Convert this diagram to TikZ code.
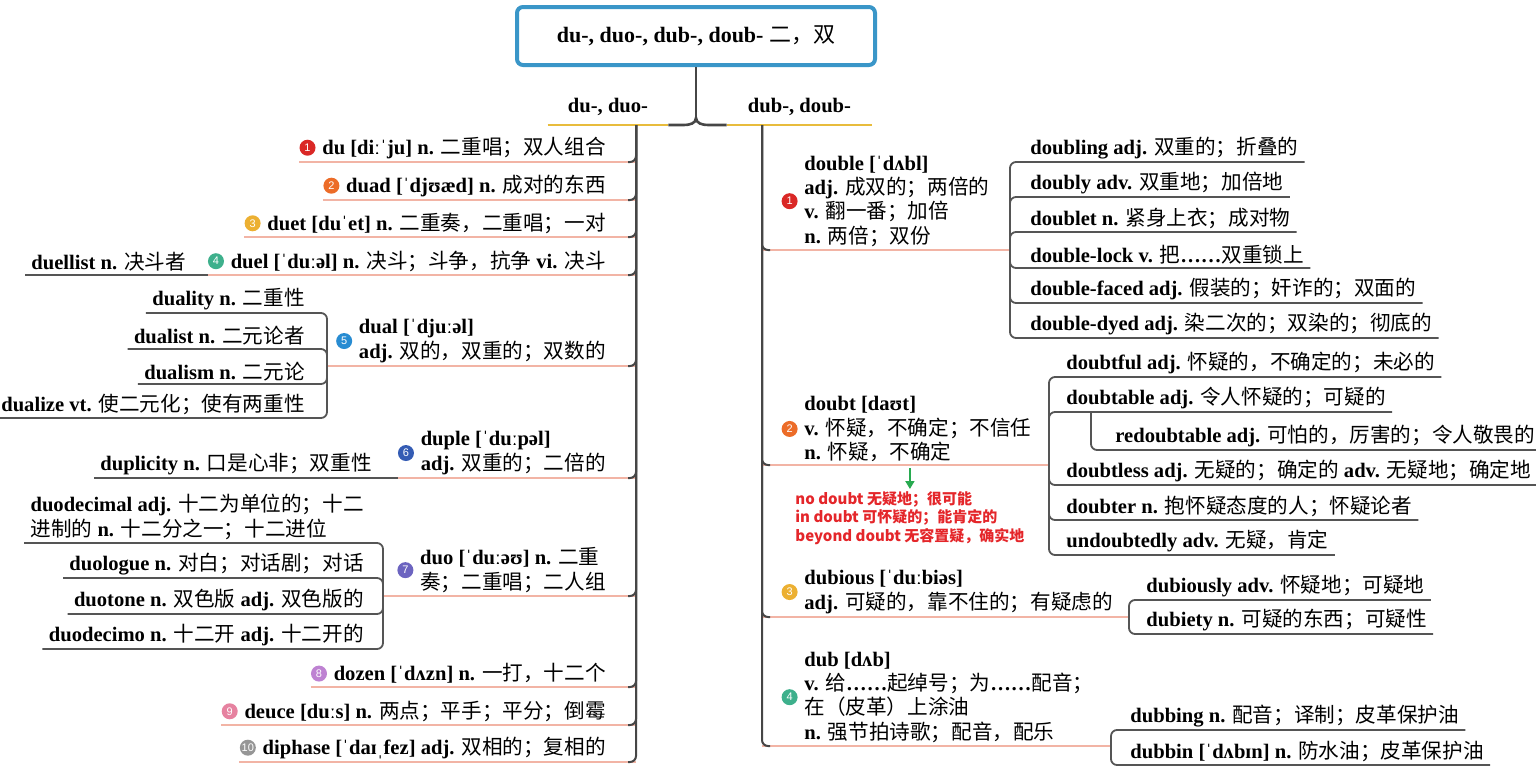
\documentclass[tikz,border=0pt]{standalone}
\usepackage{fontspec}
\setmainfont{Liberation Serif}
\setsansfont{Liberation Sans}
\newfontfamily\cjk{Noto Sans CJK SC}
\newcommand\zh[1]{{\cjk\mdseries #1}}
\usetikzlibrary{positioning,calc,arrows.meta}

\definecolor{boxblue}{RGB}{58,150,200}
\definecolor{stemgray}{RGB}{70,70,70}
\definecolor{subgray}{RGB}{85,85,85}
\definecolor{salmon}{RGB}{242,180,165}
\definecolor{gold}{RGB}{232,188,60}
\definecolor{idred}{RGB}{228,38,42}
\definecolor{arrgreen}{RGB}{40,170,80}
\definecolor{numred}{RGB}{218,40,38}
\definecolor{numorange}{RGB}{236,108,40}
\definecolor{numyellow}{RGB}{236,176,50}
\definecolor{numgreen}{RGB}{62,176,140}
\definecolor{numblue}{RGB}{40,140,210}
\definecolor{numnavy}{RGB}{52,92,180}
\definecolor{numpurple}{RGB}{108,100,192}
\definecolor{numlilac}{RGB}{190,130,210}
\definecolor{numpink}{RGB}{230,130,160}
\definecolor{numgray}{RGB}{150,150,150}

\begin{document}
\begin{tikzpicture}[x=0.5pt, y=-0.5pt,
  word/.style={font=\fontsize{10.3}{12.2}\selectfont\bfseries, inner xsep=3pt, inner ysep=1.5pt, align=left},
  num/.style={circle, fill=#1, text=white, inner sep=0pt, minimum size=8pt, font=\sffamily\fontsize{5.5}{5.5}\selectfont},
  stem/.style={draw=stemgray, line width=1pt, rounded corners=3pt},
  sub/.style={draw=subgray, line width=0.9pt, rounded corners=3pt},
  hl/.style={draw=salmon, line width=1pt},
  brace/.style={draw=stemgray, line width=1.3pt},
  idiom/.style={font=\fontsize{7.5}{9.2}\selectfont\cjk\bfseries, text=idred, inner sep=1pt, align=left}]
\useasboundingbox (0,0) rectangle (1536,776);

% 标题与两个分支
\node[draw=boxblue, line width=2pt, rounded corners=3pt, minimum width=179pt, minimum height=29pt,
  font=\fontsize{11}{13}\selectfont\bfseries] (root) at (696,36) {du-, duo-, dub-, doub- \zh{二，双}};
\node[word, inner ysep=4.5pt, minimum width=60pt, anchor=south] (lb) at (608,125) {du-, duo-};
\node[word, inner ysep=4.5pt, minimum width=72.5pt, anchor=south] (rb) at (799.5,125) {dub-, doub-};
\draw[gold, line width=1.2pt] (lb.south west) -- (lb.south east);
\draw[gold, line width=1.2pt] (rb.south west) -- (rb.south east);
\coordinate (fork) at ($(root.south)+(0,51)$);
\draw[brace] (root.south) -- (fork);
\draw[brace] (lb.south east) -- (684,125) to[out=0,in=-90] (fork) to[out=-90,in=180] (708,125) -- (rb.south west);
\coordinate (ltop) at (636,125);
\coordinate (rtop) at (762,125);

% 左侧 du-, duo-
\node[word, anchor=south east] (l1) at (612,162) {du [diːˈju] n. \zh{二重唱；双人组合}};
\node[num=numred, left=0pt of l1] (n1) {1};
\draw[hl] (n1.west |- l1.south) -- (l1.south -| ltop);
\draw[stem] (ltop) |- ($(l1.south -| ltop)+(-8,0)$);

\node[word, anchor=south east] (l2) at (612,200) {duad [ˈdjʊæd] n. \zh{成对的东西}};
\node[num=numorange, left=0pt of l2] (n2) {2};
\draw[hl] (n2.west |- l2.south) -- (l2.south -| ltop);
\draw[stem] (ltop) |- ($(l2.south -| ltop)+(-8,0)$);

\node[word, anchor=south east] (l3) at (612,237) {duet [duˈet] n. \zh{二重奏，二重唱；一对}};
\node[num=numyellow, left=0pt of l3] (n3) {3};
\draw[hl] (n3.west |- l3.south) -- (l3.south -| ltop);
\draw[stem] (ltop) |- ($(l3.south -| ltop)+(-8,0)$);

\node[word, anchor=south east] (l4) at (612,275) {duel [ˈduːəl] n. \zh{决斗；斗争，抗争} vi. \zh{决斗}};
\node[num=numgreen, left=0pt of l4] (n4) {4};
\draw[hl] (n4.west |- l4.south) -- (l4.south -| ltop);
\draw[stem] (ltop) |- ($(l4.south -| ltop)+(-8,0)$);
\node[word, anchor=south west] (d4) at (25,275) {duellist n. \zh{决斗者}};
\draw[sub] (d4.south west) -- (n4.west |- l4.south);

\node[word, anchor=south east] (l5) at (612,366) {dual [ˈdjuːəl]\\adj. \zh{双的，双重的；双数的}};
\node[num=numblue, left=0pt of l5] (n5) {5};
\coordinate (j5) at (327,366);
\draw[hl] (j5) -- (l5.south -| ltop);
\draw[stem] (ltop) |- ($(l5.south -| ltop)+(-8,0)$);
\node[word, anchor=south east] (d5a) at (311,313) {duality n. \zh{二重性}};
\node[word, anchor=south east] (d5b) at (311,349) {dualist n. \zh{二元论者}};
\node[word, anchor=south east] (d5c) at (311,384) {dualism n. \zh{二元论}};
\node[word, anchor=south east] (d5d) at (311,418) {dualize vt. \zh{使二元化；使有两重性}};
\draw[sub] (j5) |- (d5a.south west);
\draw[sub] (j5) |- (d5b.south west);
\draw[sub] (j5) |- (d5c.south west);
\draw[sub] (j5) |- (d5d.south west);

\node[word, anchor=south east] (l6) at (612,478) {duple [ˈduːpəl]\\adj. \zh{双重的；二倍的}};
\node[num=numnavy, left=0pt of l6] (n6) {6};
\draw[hl] (n6.west |- l6.south) -- (l6.south -| ltop);
\draw[stem] (ltop) |- ($(l6.south -| ltop)+(-8,0)$);
\node[word, anchor=south west] (d6) at (94,478) {duplicity n. \zh{口是心非；双重性}};
\draw[sub] (d6.south west) -- (n6.west |- l6.south);

\node[word, anchor=south east] (l7) at (612,596) {duo [ˈduːəʊ] n. \zh{二重}\\\zh{奏；二重唱；二人组}};
\node[num=numpurple, left=0pt of l7] (n7) {7};
\coordinate (j7) at (383,596);
\draw[hl] (j7) -- (l7.south -| ltop);
\draw[stem] (ltop) |- ($(l7.south -| ltop)+(-8,0)$);
\node[word, anchor=south east] (d7a) at (370,543) {duodecimal adj. \zh{十二为单位的；十二}\\\zh{进制的} n. \zh{十二分之一；十二进位}};
\node[word, anchor=south east] (d7b) at (370,578) {duologue n. \zh{对白；对话剧；对话}};
\node[word, anchor=south east] (d7c) at (370,614) {duotone n. \zh{双色版} adj. \zh{双色版的}};
\node[word, anchor=south east] (d7d) at (370,649) {duodecimo n. \zh{十二开} adj. \zh{十二开的}};
\draw[sub] (j7) |- (d7a.south west);
\draw[sub] (j7) |- (d7b.south west);
\draw[sub] (j7) |- (d7c.south west);
\draw[sub] (j7) |- (d7d.south west);

\node[word, anchor=south east] (l8) at (612,687) {dozen [ˈdʌzn] n. \zh{一打，十二个}};
\node[num=numlilac, left=0pt of l8] (n8) {8};
\draw[hl] (n8.west |- l8.south) -- (l8.south -| ltop);
\draw[stem] (ltop) |- ($(l8.south -| ltop)+(-8,0)$);

\node[word, anchor=south east] (l9) at (612,725) {deuce [duːs] n. \zh{两点；平手；平分；倒霉}};
\node[num=numpink, left=0pt of l9] (n9) {9};
\draw[hl] (n9.west |- l9.south) -- (l9.south -| ltop);
\draw[stem] (ltop) |- ($(l9.south -| ltop)+(-8,0)$);

\node[word, anchor=south east] (l10) at (612,762) {diphase [ˈdaɪˌfez] adj. \zh{双相的；复相的}};
\node[num=numgray, left=0pt of l10] (n10) {10};
\draw[hl] (n10.west |- l10.south) -- (l10.south -| ltop);
\draw[stem] (ltop) |- ($(l10.south -| ltop)+(-8,0)$);

% 右侧 dub-, doub-
\node[word, anchor=south west] (r1) at (798,250) {double [ˈdʌbl]\\adj. \zh{成双的；两倍的}\\v. \zh{翻一番；加倍}\\n. \zh{两倍；双份}};
\node[num=numred, left=0pt of r1] (m1) {1};
\coordinate (k1) at (1010,250);
\draw[hl] (r1.south -| rtop) -- (k1);
\draw[stem] (rtop) |- ($(r1.south -| rtop)+(8,0)$);
\node[word, anchor=south west] (e1a) at (1024,162) {doubling adj. \zh{双重的；折叠的}};
\node[word, anchor=south west] (e1b) at (1024,197) {doubly adv. \zh{双重地；加倍地}};
\node[word, anchor=south west] (e1c) at (1024,232) {doublet n. \zh{紧身上衣；成对物}};
\node[word, anchor=south west] (e1d) at (1024,268) {double-lock v. \zh{把}……\zh{双重锁上}};
\node[word, anchor=south west] (e1e) at (1024,303) {double-faced adj. \zh{假装的；奸诈的；双面的}};
\node[word, anchor=south west] (e1f) at (1024,338) {double-dyed adj. \zh{染二次的；双染的；彻底的}};
\draw[sub] (k1) |- (e1a.south east);
\draw[sub] (k1) |- (e1b.south east);
\draw[sub] (k1) |- (e1c.south east);
\draw[sub] (k1) |- (e1d.south east);
\draw[sub] (k1) |- (e1e.south east);
\draw[sub] (k1) |- (e1f.south east);

\node[word, anchor=south west] (r2) at (798,465) {doubt [daʊt]\\v. \zh{怀疑，不确定；不信任}\\n. \zh{怀疑，不确定}};
\node[num=numorange, left=0pt of r2] (m2) {2};
\coordinate (k2) at (1049,465);
\draw[hl] (r2.south -| rtop) -- (k2);
\draw[stem] (rtop) |- ($(r2.south -| rtop)+(8,0)$);
\node[word, anchor=south west] (e2a) at (1060,377) {doubtful adj. \zh{怀疑的，不确定的；未必的}};
\node[word, anchor=south west] (e2b) at (1060,412) {doubtable adj. \zh{令人怀疑的；可疑的}};
\node[word, anchor=south west] (e2c) at (1060,485) {doubtless adj. \zh{无疑的；确定的} adv. \zh{无疑地；确定地}};
\node[word, anchor=south west] (e2d) at (1060,520) {doubter n. \zh{抱怀疑态度的人；怀疑论者}};
\node[word, anchor=south west] (e2e) at (1060,555) {undoubtedly adv. \zh{无疑，肯定}};
\draw[sub] (k2) |- (e2a.south east);
\draw[sub] (k2) |- (e2b.south east);
\draw[sub] (k2) |- (e2c.south east);
\draw[sub] (k2) |- (e2d.south east);
\draw[sub] (k2) |- (e2e.south east);
\node[word, anchor=south west] (e2g) at (1109,450) {redoubtable adj. \zh{可怕的，厉害的；令人敬畏的}};
\coordinate (k2b) at (1091,412);
\draw[sub] (k2b) |- (e2g.south east);
\node[idiom, anchor=north west] (idm) at (793,489) {no doubt 无疑地；很可能\\in doubt 可怀疑的；能肯定的\\beyond doubt 无容置疑，确实地};
\draw[arrgreen, line width=0.8pt, -{Triangle[length=4pt,width=4.5pt]}] ($(r2.south -| idm.north)+(0,3)$) -- (idm.north);

\node[word, anchor=south west] (r3) at (798,617) {dubious [ˈduːbiəs]\\adj. \zh{可疑的，靠不住的；有疑虑的}};
\node[num=numyellow, left=0pt of r3] (m3) {3};
\coordinate (k3) at (1129,617);
\draw[hl] (r3.south -| rtop) -- (k3);
\draw[stem] (rtop) |- ($(r3.south -| rtop)+(8,0)$);
\node[word, anchor=south west] (e3a) at (1140,600) {dubiously adv. \zh{怀疑地；可疑地}};
\node[word, anchor=south west] (e3b) at (1140,634) {dubiety n. \zh{可疑的东西；可疑性}};
\draw[sub] (k3) |- (e3a.south east);
\draw[sub] (k3) |- (e3b.south east);

\node[word, anchor=south west] (r4) at (798,746) {dub [dʌb]\\v. \zh{给}……\zh{起绰号；为}……\zh{配音；}\\\zh{在（皮革）上涂油}\\n. \zh{强节拍诗歌；配音，配乐}};
\node[num=numgreen, left=0pt of r4] (m4) {4};
\coordinate (k4) at (1111,746);
\draw[hl] (r4.south -| rtop) -- (k4);
\draw[stem] (rtop) |- ($(r4.south -| rtop)+(8,0)$);
\node[word, anchor=south west] (e4a) at (1124,730) {dubbing n. \zh{配音；译制；皮革保护油}};
\node[word, anchor=south west] (e4b) at (1124,765) {dubbin [ˈdʌbɪn] n. \zh{防水油；皮革保护油}};
\draw[sub] (k4) |- (e4a.south east);
\draw[sub] (k4) |- (e4b.south east);
\end{tikzpicture}
\end{document}
